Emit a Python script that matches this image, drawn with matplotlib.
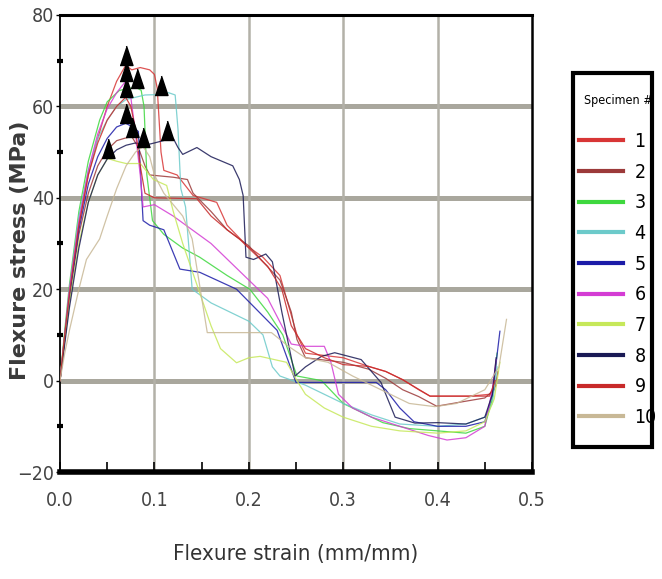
import numpy as np
import matplotlib
matplotlib.use("Agg")
import matplotlib.pyplot as plt
from matplotlib.ticker import MultipleLocator
from matplotlib.font_manager import FontProperties
from matplotlib.patches import Rectangle

# =========================
# data (strain mm/mm, stress MPa)
# =========================
specimens = ["1", "2", "3", "4", "5", "6", "7", "8", "9", "10"]
colors = ["#d83636", "#9c3a3a", "#3ed83e", "#6ccaca", "#1c1ca8",
          "#d43cd4", "#c6e85a", "#1a1a55", "#c82a2a", "#c8b896"]

strain_1 = [0, 0.005, 0.01, 0.02, 0.03, 0.04, 0.05, 0.06, 0.0696, 0.076, 0.085, 0.095, 0.1, 0.103,
            0.107, 0.11, 0.124, 0.141, 0.166, 0.177, 0.198, 0.215, 0.233, 0.251, 0.26, 0.28, 0.3,
            0.327, 0.345, 0.363, 0.38, 0.392, 0.434, 0.455, 0.462]
stress_1 = [0, 10, 19, 34, 45, 53, 60, 65.5, 69, 68, 68.5, 68, 67, 64,
            50, 46, 45, 40.5, 39, 34, 29.5, 27, 23, 10, 6, 5.5, 5, 3.1, 2, 0.2, -2, -3.4, -3.4, -3, -1]

strain_2 = [0, 0.005, 0.01, 0.02, 0.03, 0.04, 0.05, 0.06, 0.068, 0.076, 0.083, 0.09, 0.095,
            0.12, 0.135, 0.141, 0.16, 0.177, 0.19, 0.2, 0.215, 0.233, 0.245, 0.251, 0.26, 0.28,
            0.3, 0.327, 0.345, 0.363, 0.38, 0.399, 0.43, 0.45, 0.46, 0.464]
stress_2 = [0, 9, 18, 32, 41, 47, 50.5, 52.5, 53, 53.4, 51, 47, 45,
            44.5, 44, 41, 37, 33, 31, 29.5, 26, 22, 15, 9, 5, 4.5,
            4, 2.5, 0.5, -2, -3.5, -5.6, -4.5, -3.8, -2, 2]

strain_3 = [0, 0.005, 0.01, 0.02, 0.03, 0.042, 0.05, 0.063, 0.075, 0.082, 0.086, 0.089, 0.092,
            0.098, 0.11, 0.13, 0.148, 0.177, 0.201, 0.22, 0.236, 0.251, 0.277, 0.3, 0.342, 0.37,
            0.4, 0.43, 0.45, 0.458, 0.463]
stress_3 = [0, 11, 21, 37, 48, 57, 61, 63.5, 64, 64, 63.5, 60, 45,
            35, 32, 29, 27, 23, 20, 15, 10, 1, 0, -5, -9.2, -10.5,
            -11, -11.5, -10, -4, 6]

strain_4 = [0, 0.005, 0.01, 0.02, 0.03, 0.04, 0.05, 0.06, 0.07, 0.08, 0.09, 0.107, 0.115, 0.122,
            0.125, 0.128, 0.133, 0.137, 0.14, 0.16, 0.18, 0.2, 0.215, 0.225, 0.233, 0.26, 0.28,
            0.3, 0.33, 0.36, 0.4, 0.43, 0.45, 0.458, 0.463]
stress_4 = [0, 10, 20, 36, 46, 53, 57, 60, 61.5, 62, 62.5, 62.6, 63, 62.5,
            55, 42, 38, 28, 20, 17, 15, 13, 10, 3, 1, -1, -3,
            -5, -7.5, -9.5, -10, -9.5, -8, -5, 3]

strain_5 = [0, 0.005, 0.01, 0.02, 0.03, 0.04, 0.05, 0.06, 0.0696, 0.077, 0.083, 0.088, 0.095,
            0.11, 0.127, 0.148, 0.187, 0.23, 0.25, 0.28, 0.335, 0.345, 0.36, 0.375, 0.4, 0.43,
            0.45, 0.458, 0.466]
stress_5 = [0, 9, 18, 33, 43, 49, 53, 55.5, 56.3, 55.5, 54.5, 35, 34,
            33, 24.4, 23.7, 20, 11, -0.4, -0.4, -0.4, -2, -6, -9, -10, -10,
            -9, -3, 10.8]

strain_6 = [0, 0.005, 0.01, 0.02, 0.03, 0.04, 0.05, 0.06, 0.0696, 0.075, 0.08, 0.085, 0.088,
            0.1, 0.12, 0.14, 0.16, 0.18, 0.2, 0.22, 0.235, 0.245, 0.26, 0.28, 0.287, 0.295, 0.31,
            0.33, 0.36, 0.39, 0.41, 0.43, 0.45, 0.458, 0.462]
stress_6 = [0, 10, 20, 35, 46, 54, 59.5, 63, 65.5, 62, 54, 45, 38,
            38.5, 36, 33, 30, 26, 22, 18, 12, 8, 7.5, 7.5, 4, -3, -6,
            -8, -10, -12, -13, -12.5, -10, -2, 4.6]

strain_7 = [0, 0.005, 0.01, 0.02, 0.03, 0.04, 0.0505, 0.06, 0.07, 0.085, 0.099, 0.113, 0.12,
            0.13, 0.14, 0.15, 0.16, 0.17, 0.187, 0.2, 0.212, 0.24, 0.251, 0.26, 0.28, 0.3, 0.33,
            0.36, 0.4, 0.43, 0.45, 0.46, 0.466]
stress_7 = [0, 9, 17, 30, 39, 45, 48.6, 48, 47.5, 47.5, 44, 42.7, 37,
            30, 24, 18, 12, 7, 3.9, 5, 5.3, 4, 0, -3, -6, -8, -10,
            -11, -11.5, -11, -9, -4, 4]

strain_8 = [0, 0.005, 0.01, 0.02, 0.03, 0.04, 0.05, 0.06, 0.07, 0.08, 0.09, 0.1, 0.113, 0.12,
            0.125, 0.13, 0.145, 0.16, 0.183, 0.19, 0.194, 0.197, 0.205, 0.218, 0.225, 0.235, 0.249,
            0.26, 0.277, 0.291, 0.319, 0.34, 0.355, 0.376, 0.4, 0.43, 0.45, 0.458, 0.462]
stress_8 = [0, 8, 16, 29, 39, 45, 48.5, 50.5, 51.5, 52, 51.5, 52, 52.7, 53,
            51, 49.5, 51, 49, 47, 44, 40.5, 27, 26.5, 27.7, 26, 15, 1,
            3, 5.3, 6.1, 4.6, -0.4, -8, -9.3, -9.2, -9.5, -8, -3, 5]

strain_9 = [0, 0.005, 0.01, 0.02, 0.03, 0.04, 0.05, 0.06, 0.0696, 0.075, 0.08, 0.085, 0.09,
            0.1, 0.145, 0.16, 0.177, 0.19, 0.2, 0.22, 0.235, 0.245, 0.26, 0.28, 0.3, 0.327,
            0.345, 0.363, 0.392, 0.434, 0.455, 0.461]
stress_9 = [0, 10, 19, 34, 45, 52, 57, 60, 62, 60, 55, 47, 41,
            40, 39.8, 36, 33, 31, 29, 25, 20, 12, 7, 5, 3.5, 3.1,
            2, 0.2, -3.4, -3.4, -3.4, 0]

strain_10 = [0, 0.005, 0.01, 0.02, 0.028, 0.042, 0.05, 0.06, 0.07, 0.08, 0.088, 0.095, 0.1,
             0.11, 0.13, 0.14, 0.156, 0.17, 0.187, 0.224, 0.242, 0.26, 0.284, 0.31, 0.34, 0.37,
             0.397, 0.42, 0.45, 0.465, 0.473]
stress_10 = [0, 6, 11, 20, 26.5, 31, 36, 42, 47, 50, 51.2, 49, 45,
             41, 36, 31, 10.5, 10.5, 10.5, 10.5, 7.5, 5, 4, 1, -2, -5,
             -5.7, -5, -2, 3, 13.4]

strains = [strain_1, strain_2, strain_3, strain_4, strain_5,
           strain_6, strain_7, strain_8, strain_9, strain_10]
stresses = [stress_1, stress_2, stress_3, stress_4, stress_5,
            stress_6, stress_7, stress_8, stress_9, stress_10]

# peak (failure) markers
peak_strain = [0.0696, 0.076, 0.082, 0.107, 0.0696, 0.0696, 0.0505, 0.113, 0.0696, 0.088]
peak_stress = [69, 53.4, 64, 62.6, 56.3, 65.5, 48.6, 52.7, 62, 51.2]

W, H = 662, 579


def narrow_font(size):
    return FontProperties(family="DejaVu Sans", stretch="condensed", size=size)


fig = plt.figure(figsize=(W / 100, H / 100), dpi=100)
ax = fig.add_axes([60 / W, 1 - 472 / H, 472 / W, 457 / H])

# grid lines (thick horizontal, thin vertical)
for yv in [0, 20, 40, 60]:
    ax.axhline(yv, color="#a9a79d", linewidth=3.6, zorder=1)
for xv in [0.1, 0.2, 0.3, 0.4]:
    ax.axvline(xv, color="#b3b1a8", linewidth=1.8, zorder=1)

for i in range(len(specimens)):
    ax.plot(strains[i], stresses[i], color=colors[i], linewidth=0.9,
            alpha=0.85, label=specimens[i], zorder=3)

tri = [(-1, 0), (1, 0), (0, 3)]
ax.plot(peak_strain, peak_stress, linestyle="none", marker=tri,
        markersize=28, color="black", zorder=5)

ax.set_xlim(0, 0.5)
ax.set_ylim(-20, 80)
ax.xaxis.set_minor_locator(MultipleLocator(0.05))
ax.yaxis.set_major_locator(MultipleLocator(20))
ax.yaxis.set_minor_locator(MultipleLocator(10))
ax.set_xticks([0, 0.1, 0.2, 0.3, 0.4, 0.5])
ax.set_xticklabels(["0.0", "0.1", "0.2", "0.3", "0.4", "0.5"])

ax.tick_params(axis="x", which="both", direction="in", length=7, width=1.2,
               pad=14, colors="black", labelcolor="#444444")
ax.tick_params(axis="y", which="major", direction="out", length=3, width=1.0,
               pad=1, labelcolor="#444444")
ax.tick_params(axis="y", which="minor", direction="inout", length=5, width=3)
for lab in ax.get_xticklabels() + ax.get_yticklabels():
    lab.set_fontproperties(narrow_font(14))

ax.spines["left"].set_linewidth(1.3)
ax.spines["right"].set_linewidth(1.8)
ax.spines["top"].set_linewidth(2.2)
ax.spines["bottom"].set_linewidth(4)

ax.set_xlabel("Flexure strain (mm/mm)", fontproperties=narrow_font(16),
              color="#333333", labelpad=24)
fig.text(20 / W, 1 - 250 / H, "Flexure stress (MPa)", rotation=90,
         ha="center", va="center", fontsize=16, fontweight="bold",
         color="#3a3a3a", family="DejaVu Sans")

# legend: frame drawn as a separate box so the padding can match
fig.patches.append(Rectangle((573 / W, 1 - 447 / H), 79 / W, 374 / H,
                             transform=fig.transFigure, fill=False,
                             linewidth=3, edgecolor="black"))
leg = fig.legend(loc="upper left", bbox_to_anchor=(579 / W, 1 - 94 / H),
                 borderaxespad=0, borderpad=0, title="Specimen #",
                 frameon=False, handlelength=2.25, handletextpad=0.6,
                 labelspacing=0.6, prop=narrow_font(14),
                 title_fontproperties=narrow_font(9))
leg._legend_box.sep = 18
for h in leg.legend_handles:
    h.set_linewidth(3)
    h.set_alpha(1)

fig.savefig("out.png", dpi=100)
